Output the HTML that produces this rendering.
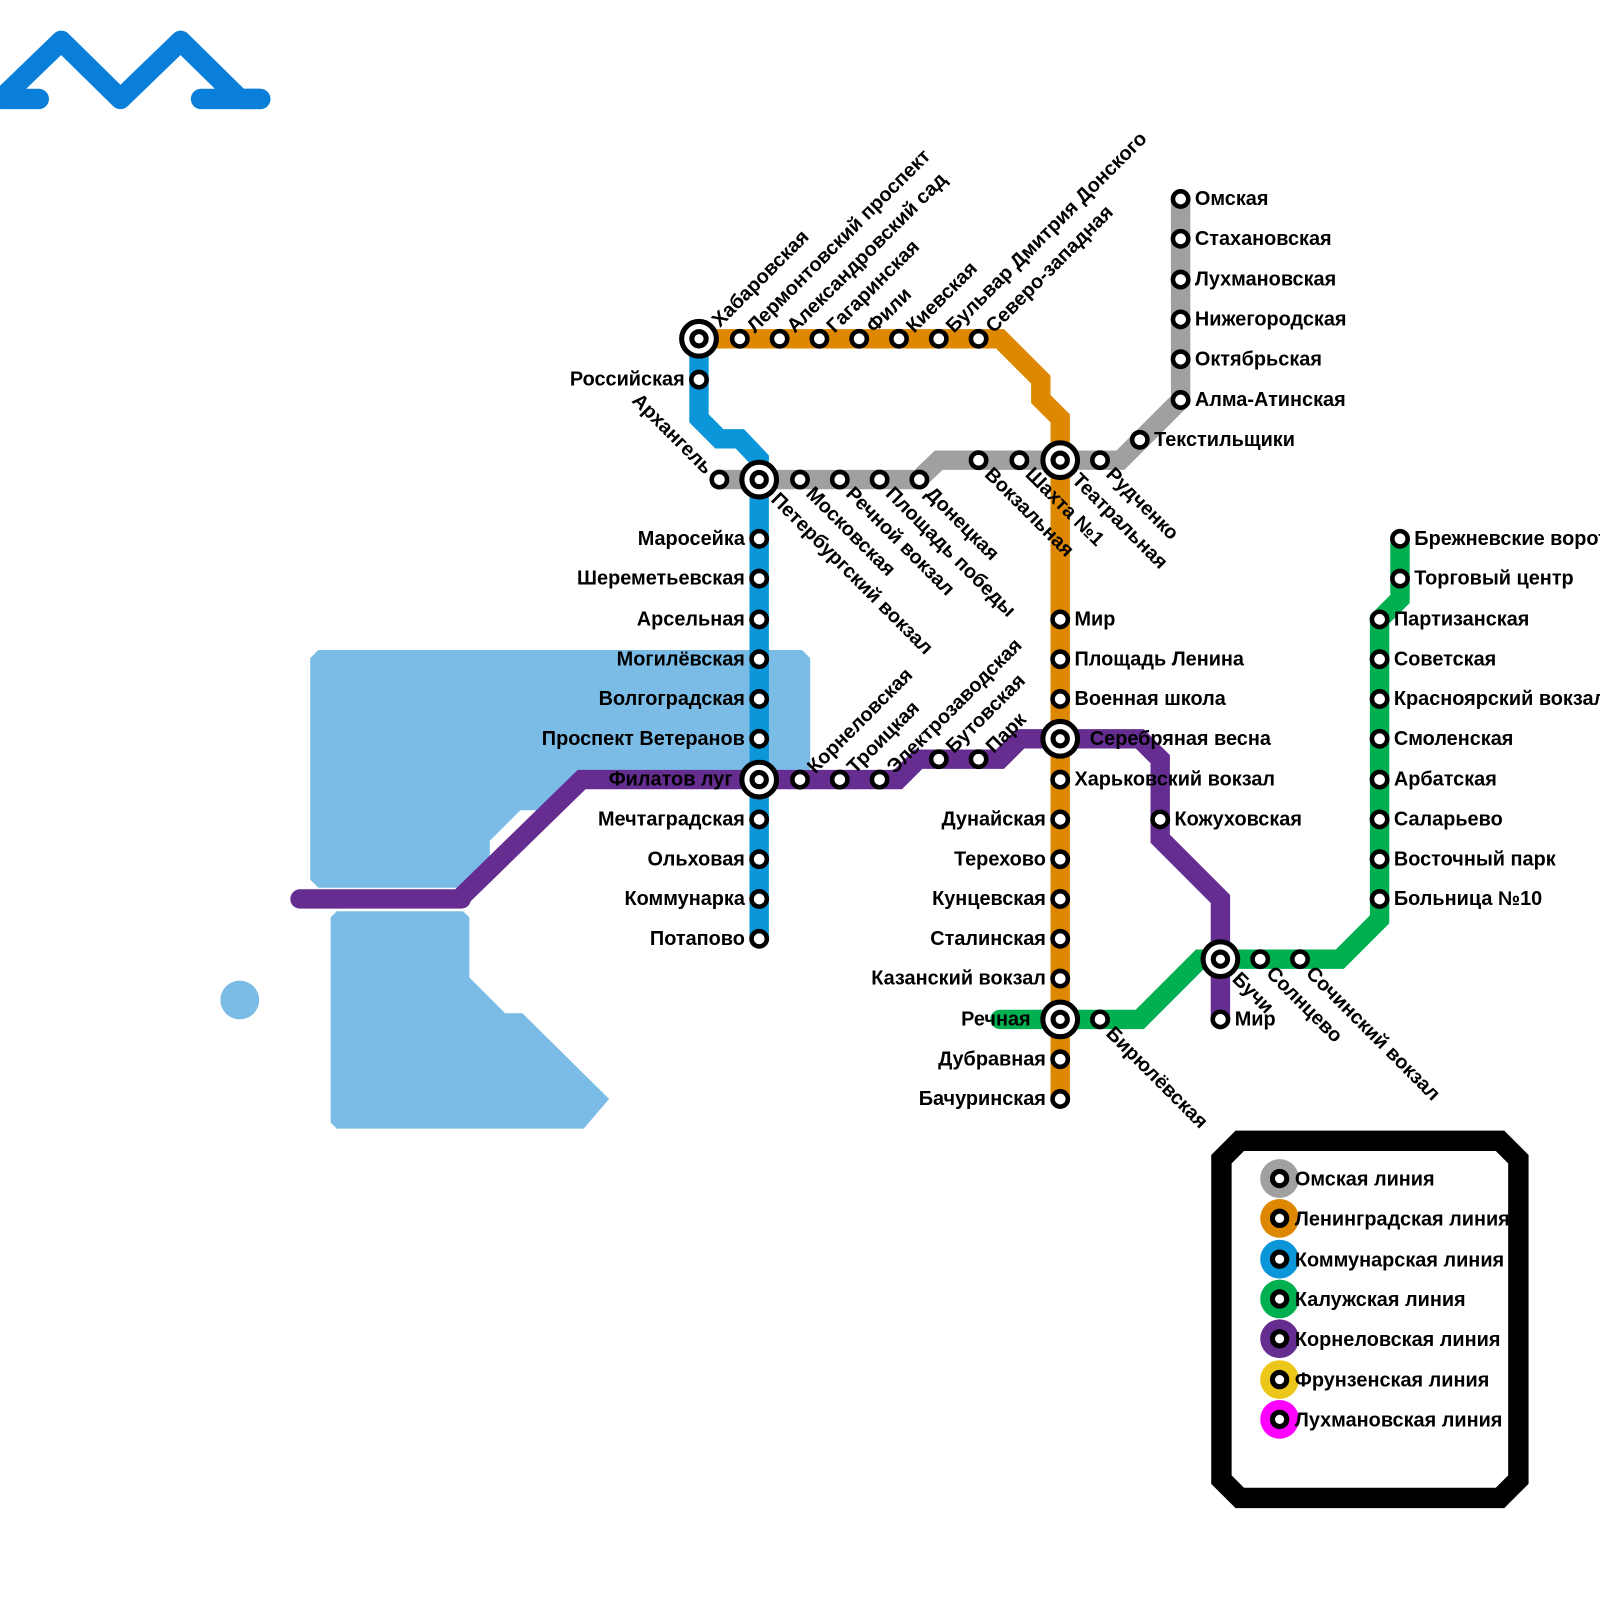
<!DOCTYPE html>
<html><head><meta charset="utf-8"><style>
html,body{margin:0;padding:0;background:#fff}
svg{display:block}
text{font-family:"Liberation Sans","DejaVu Sans",sans-serif;font-weight:bold;font-size:19.5px;fill:#000}
.s{fill:#fff;stroke:#000;stroke-width:4.5}
.i{fill:#fff;stroke:#000;stroke-width:5}
.ln{fill:none;stroke-width:19;stroke-linejoin:miter}
.e{text-anchor:end}
</style></head><body>
<svg width="1600" height="1600" viewBox="0 0 1568 1568" xmlns="http://www.w3.org/2000/svg">
<g stroke="#0a7fd9" stroke-width="20" fill="none" stroke-linecap="round" stroke-linejoin="round">
<polyline points="2,96 60,40 118,97 177,40 235,97 255,97"/>
<line x1="2" y1="97" x2="38" y2="97"/>
<line x1="197" y1="97" x2="255" y2="97"/>
</g>
<g fill="#7bbce6">
<polygon points="312,637 786,637 794,645 794,764 570,764 540,794 510,794 480,824 480,850 455,870 312,870 304,862 304,645"/>
<polygon points="330,893 454,893 460,899 460,958 495,993 512,993 597,1077 572,1106 330,1106 324,1100 324,899"/>
<circle cx="235" cy="980" r="19"/>
</g>
<polyline class="ln" stroke="#a0a0a0" points="705,470 900,470 920,451 1098,451 1157,392 1157,195"/>
<polyline class="ln" stroke="#dd8800" points="685,332 980,332 1020,372 1020,391 1039,410 1039,1078"/>
<polyline class="ln" stroke="#0a96d8" points="685,332 685,410 705,430 725,430 744,450 744,920"/>
<polyline class="ln" stroke="#00b050" stroke-linecap="round" points="980,999 1117,999 1176,940 1313,940 1352,901 1352,607 1372,587 1372,528"/>
<polyline class="ln" stroke="#662d91" points="450,881 570,764 880,764 900,744 980,744 1000,724 1117,724 1137,744 1137,822 1196,881 1196,999"/>
<line x1="294" y1="881" x2="452" y2="881" stroke="#662d91" stroke-width="19" stroke-linecap="round"/>

<g>
<circle class="s" cx="725" cy="332" r="7.5"/><circle class="s" cx="764" cy="332" r="7.5"/><circle class="s" cx="803" cy="332" r="7.5"/><circle class="s" cx="842" cy="332" r="7.5"/><circle class="s" cx="881" cy="332" r="7.5"/><circle class="s" cx="920" cy="332" r="7.5"/><circle class="s" cx="959" cy="332" r="7.5"/>
<circle class="s" cx="685" cy="372" r="7.5"/>
<circle class="s" cx="705" cy="470" r="7.5"/><circle class="s" cx="784" cy="470" r="7.5"/><circle class="s" cx="823" cy="470" r="7.5"/><circle class="s" cx="862" cy="470" r="7.5"/><circle class="s" cx="901" cy="470" r="7.5"/>
<circle class="s" cx="959" cy="451" r="7.5"/><circle class="s" cx="999" cy="451" r="7.5"/><circle class="s" cx="1078" cy="451" r="7.5"/><circle class="s" cx="1117" cy="431" r="7.5"/>
<circle class="s" cx="1157" cy="392" r="7.5"/><circle class="s" cx="1157" cy="352" r="7.5"/><circle class="s" cx="1157" cy="313" r="7.5"/><circle class="s" cx="1157" cy="274" r="7.5"/><circle class="s" cx="1157" cy="234" r="7.5"/><circle class="s" cx="1157" cy="195" r="7.5"/>
<circle class="s" cx="744" cy="528" r="7.5"/><circle class="s" cx="744" cy="567" r="7.5"/><circle class="s" cx="744" cy="607" r="7.5"/><circle class="s" cx="744" cy="646" r="7.5"/><circle class="s" cx="744" cy="685" r="7.5"/><circle class="s" cx="744" cy="724" r="7.5"/>
<circle class="s" cx="744" cy="803" r="7.5"/><circle class="s" cx="744" cy="842" r="7.5"/><circle class="s" cx="744" cy="881" r="7.5"/><circle class="s" cx="744" cy="920" r="7.5"/>
<circle class="s" cx="784" cy="764" r="7.5"/><circle class="s" cx="823" cy="764" r="7.5"/><circle class="s" cx="862" cy="764" r="7.5"/><circle class="s" cx="920" cy="744" r="7.5"/><circle class="s" cx="959" cy="744" r="7.5"/>
<circle class="s" cx="1039" cy="607" r="7.5"/><circle class="s" cx="1039" cy="646" r="7.5"/><circle class="s" cx="1039" cy="685" r="7.5"/>
<circle class="s" cx="1039" cy="764" r="7.5"/><circle class="s" cx="1039" cy="803" r="7.5"/><circle class="s" cx="1039" cy="842" r="7.5"/><circle class="s" cx="1039" cy="881" r="7.5"/><circle class="s" cx="1039" cy="920" r="7.5"/><circle class="s" cx="1039" cy="959" r="7.5"/>
<circle class="s" cx="1039" cy="1038" r="7.5"/><circle class="s" cx="1039" cy="1077" r="7.5"/>
<circle class="s" cx="1078" cy="999" r="7.5"/><circle class="s" cx="1137" cy="803" r="7.5"/><circle class="s" cx="1196" cy="999" r="7.5"/>
<circle class="s" cx="1235" cy="940" r="7.5"/><circle class="s" cx="1274" cy="940" r="7.5"/>
<circle class="s" cx="1352" cy="881" r="7.5"/><circle class="s" cx="1352" cy="842" r="7.5"/><circle class="s" cx="1352" cy="803" r="7.5"/><circle class="s" cx="1352" cy="764" r="7.5"/><circle class="s" cx="1352" cy="724" r="7.5"/><circle class="s" cx="1352" cy="685" r="7.5"/><circle class="s" cx="1352" cy="646" r="7.5"/><circle class="s" cx="1352" cy="607" r="7.5"/>
<circle class="s" cx="1372" cy="567" r="7.5"/><circle class="s" cx="1372" cy="528" r="7.5"/>
</g>
<g>
<circle class="i" cx="685" cy="332" r="17"/><circle class="i" cx="685" cy="332" r="7"/>
<circle class="i" cx="744" cy="470" r="17"/><circle class="i" cx="744" cy="470" r="7"/>
<circle class="i" cx="744" cy="764" r="17"/><circle class="i" cx="744" cy="764" r="7"/>
<circle class="i" cx="1039" cy="451" r="17"/><circle class="i" cx="1039" cy="451" r="7"/>
<circle class="i" cx="1039" cy="724" r="17"/><circle class="i" cx="1039" cy="724" r="7"/>
<circle class="i" cx="1039" cy="999" r="17"/><circle class="i" cx="1039" cy="999" r="7"/>
<circle class="i" cx="1196" cy="940" r="17"/><circle class="i" cx="1196" cy="940" r="7"/>
</g>

<g>
<text class="e" x="671" y="378">Российская</text>
<text class="e" x="730" y="534">Маросейка</text>
<text class="e" x="730" y="573">Шереметьевская</text>
<text class="e" x="730" y="613">Арсельная</text>
<text class="e" x="730" y="652">Могилёвская</text>
<text class="e" x="730" y="691">Волгоградская</text>
<text class="e" x="730" y="730">Проспект Ветеранов</text>
<text class="e" x="718" y="770">Филатов луг</text>
<text class="e" x="730" y="809">Мечтаградская</text>
<text class="e" x="730" y="848">Ольховая</text>
<text class="e" x="730" y="887">Коммунарка</text>
<text class="e" x="730" y="926">Потапово</text>
<text x="1171" y="201">Омская</text>
<text x="1171" y="240">Стахановская</text>
<text x="1171" y="280">Лухмановская</text>
<text x="1171" y="319">Нижегородская</text>
<text x="1171" y="358">Октябрьская</text>
<text x="1171" y="398">Алма-Атинская</text>
<text x="1131" y="437">Текстильщики</text>
<text x="1053" y="613">Мир</text>
<text x="1053" y="652">Площадь Ленина</text>
<text x="1053" y="691">Военная школа</text>
<text x="1068" y="730">Серебряная весна</text>
<text x="1053" y="770">Харьковский вокзал</text>
<text class="e" x="1025" y="809">Дунайская</text>
<text class="e" x="1025" y="848">Терехово</text>
<text class="e" x="1025" y="887">Кунцевская</text>
<text class="e" x="1025" y="926">Сталинская</text>
<text class="e" x="1025" y="965">Казанский вокзал</text>
<text class="e" x="1010" y="1005">Речная</text>
<text class="e" x="1025" y="1044">Дубравная</text>
<text class="e" x="1025" y="1083">Бачуринская</text>
<text x="1151" y="809">Кожуховская</text>
<text x="1210" y="1005">Мир</text>
<text x="1366" y="887">Больница №10</text>
<text x="1366" y="848">Восточный парк</text>
<text x="1366" y="809">Саларьево</text>
<text x="1366" y="770">Арбатская</text>
<text x="1366" y="730">Смоленская</text>
<text x="1366" y="691">Красноярский вокзал</text>
<text x="1366" y="652">Советская</text>
<text x="1366" y="613">Партизанская</text>
<text x="1386" y="573">Торговый центр</text>
<text x="1386" y="534">Брежневские ворота</text>
</g>

<g>
<text transform="translate(685,332) rotate(-45)" x="22" y="7">Хабаровская</text>
<text transform="translate(725,332) rotate(-45)" x="14" y="7">Лермонтовский проспект</text>
<text transform="translate(764,332) rotate(-45)" x="14" y="7">Александровский сад</text>
<text transform="translate(803,332) rotate(-45)" x="14" y="7">Гагаринская</text>
<text transform="translate(842,332) rotate(-45)" x="14" y="7">Фили</text>
<text transform="translate(881,332) rotate(-45)" x="14" y="7">Киевская</text>
<text transform="translate(920,332) rotate(-45)" x="14" y="7">Бульвар Дмитрия Донского</text>
<text transform="translate(959,332) rotate(-45)" x="14" y="7">Северо-западная</text>
<text transform="translate(784,764) rotate(-45)" x="14" y="7">Корнеловская</text>
<text transform="translate(823,764) rotate(-45)" x="14" y="7">Троицкая</text>
<text transform="translate(862,764) rotate(-45)" x="14" y="7">Электрозаводская</text>
<text transform="translate(920,744) rotate(-45)" x="14" y="7">Бутовская</text>
<text transform="translate(959,744) rotate(-45)" x="14" y="7">Парк</text>
</g>
<g>
<text transform="translate(705,470) rotate(45)" class="e" x="-13" y="7">Архангель</text>
<text transform="translate(744,470) rotate(45)" x="22" y="7">Петербургский вокзал</text>
<text transform="translate(784,470) rotate(45)" x="14" y="7">Московская</text>
<text transform="translate(823,470) rotate(45)" x="14" y="7">Речной вокзал</text>
<text transform="translate(862,470) rotate(45)" x="14" y="7">Площадь победы</text>
<text transform="translate(901,470) rotate(45)" x="14" y="7">Донецкая</text>
<text transform="translate(959,451) rotate(45)" x="14" y="7">Вокзальная</text>
<text transform="translate(999,451) rotate(45)" x="14" y="7">Шахта №1</text>
<text transform="translate(1039,451) rotate(45)" x="22" y="7">Театральная</text>
<text transform="translate(1078,451) rotate(45)" x="14" y="7">Рудченко</text>
<text transform="translate(1078,999) rotate(45)" x="14" y="7">Бирюлёвская</text>
<text transform="translate(1196,940) rotate(45)" x="22" y="7">Бучи</text>
<text transform="translate(1235,940) rotate(45)" x="14" y="7">Солнцево</text>
<text transform="translate(1274,940) rotate(45)" x="14" y="7">Сочинский вокзал</text>
</g>

<polygon points="1215,1118 1470,1118 1488,1136 1488,1450 1470,1468 1215,1468 1197,1450 1197,1136" fill="#fff" stroke="#000" stroke-width="20" stroke-linejoin="miter"/>
<g>
<circle cx="1254" cy="1155" r="19" fill="#a0a0a0"/><circle class="i" cx="1254" cy="1155" r="7"/><text x="1269" y="1162">Омская линия</text>
<circle cx="1254" cy="1194" r="19" fill="#dd8800"/><circle class="i" cx="1254" cy="1194" r="7"/><text x="1269" y="1201">Ленинградская линия</text>
<circle cx="1254" cy="1234" r="19" fill="#0a96d8"/><circle class="i" cx="1254" cy="1234" r="7"/><text x="1269" y="1241">Коммунарская линия</text>
<circle cx="1254" cy="1273" r="19" fill="#00b050"/><circle class="i" cx="1254" cy="1273" r="7"/><text x="1269" y="1280">Калужская линия</text>
<circle cx="1254" cy="1312" r="19" fill="#662d91"/><circle class="i" cx="1254" cy="1312" r="7"/><text x="1269" y="1319">Корнеловская линия</text>
<circle cx="1254" cy="1352" r="19" fill="#ecc618"/><circle class="i" cx="1254" cy="1352" r="7"/><text x="1269" y="1359">Фрунзенская линия</text>
<circle cx="1254" cy="1391" r="19" fill="#ff00ff"/><circle class="i" cx="1254" cy="1391" r="7"/><text x="1269" y="1398">Лухмановская линия</text>
</g>
</svg>
</body></html>
